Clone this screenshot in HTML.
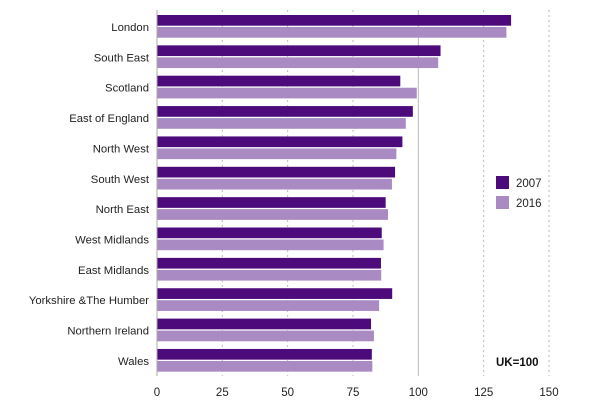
<!DOCTYPE html>
<html><head><meta charset="utf-8"><style>
body{margin:0;background:#fff;}
svg{display:block;font-family:"Liberation Sans",Arial,sans-serif;}
</style></head><body>
<svg id="chart" width="612" height="405"></svg>
<script>
const categories=["London","South East","Scotland","East of England","North West","South West","North East","West Midlands","East Midlands","Yorkshire &The Humber","Northern Ireland","Wales"];
const values2007=[135.5,108.5,93.1,97.9,93.9,91.1,87.5,86.0,85.7,90.0,81.9,82.2];
const values2016=[133.7,107.6,99.4,95.2,91.6,89.9,88.4,86.7,85.8,85.0,83.0,82.4];
const ticks=[0,25,50,75,100,125,150];
const seriesNames=["2007","2016"];
const colors=["#4d0a7b","#a98ac3"];
const NS="http://www.w3.org/2000/svg";
const svg=document.getElementById('chart');
const x0=157,x1=549,vmax=150,top0=15,rowH=30.36,barH=10.7;
const xs=v=>x0+(x1-x0)*v/vmax;
const yRow=i=>top0+i*rowH;
function mk(t,a,p){const e=document.createElementNS(NS,t);for(const k in a)e.setAttribute(k,a[k]);(p||svg).appendChild(e);return e;}
ticks.forEach(t=>{
  const x=xs(t);
  if(t>0){const l=mk('line',{x1:x,x2:x,y1:10,y2:376,stroke:'#bbb','stroke-width':1,'stroke-dasharray':t===100?'none':'2,3'});
  
  }
  const tx=mk('text',{x:x,y:396,'text-anchor':'middle','font-size':11.5,fill:'#222'});tx.textContent=t;
  
  
});
categories.forEach((c,i)=>{
  const y=yRow(i);
  const b1=mk('rect',{x:x0,y:y,width:xs(values2007[i])-x0,height:barH,fill:colors[0]});
  
  
  const b2=mk('rect',{x:x0,y:y+12,width:xs(values2016[i])-x0,height:barH,fill:colors[1]});
  
  
  const t=mk('text',{x:149,y:y+16,'text-anchor':'end','font-size':11.3,fill:'#222'});t.textContent=c;
  
  
});
const ax=mk('line',{x1:x0,x2:x0,y1:10,y2:376,stroke:'#aaa','stroke-width':1});


seriesNames.forEach((s,i)=>{
  const r=mk('rect',{x:496,y:176+i*20,width:13,height:13,fill:colors[i]});
  
  
  const t=mk('text',{x:516,y:187+i*20,'font-size':11.5,fill:'#222'});t.textContent=s;
  
  
});
const n=mk('text',{x:496,y:366,'font-size':11.5,'font-weight':'bold',fill:'#111'});n.textContent='UK=100';


</script>
</body></html>
